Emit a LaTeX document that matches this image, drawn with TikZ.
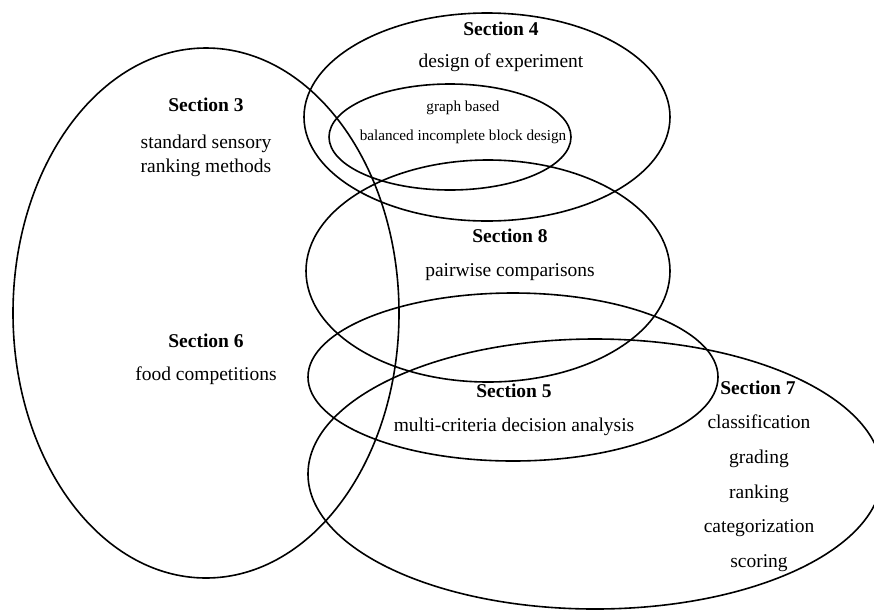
\documentclass[tikz,border=0pt]{standalone}
\usepackage{fontspec}
\setmainfont{Liberation Serif}
\usepackage{tikz}
\usetikzlibrary{positioning}

\begin{document}
\begin{tikzpicture}[
  x=1pt, y=-1pt,
  setline/.style={draw=black, line width=1.6pt},
  head/.style={font=\fontsize{19.5}{23}\selectfont\bfseries, inner sep=0pt,
               text height=0.7em, text depth=0em},
  body/.style={font=\fontsize{19.5}{23}\selectfont, inner sep=0pt,
               text height=0.7em, text depth=0.2em},
  small/.style={font=\fontsize{15.2}{18}\selectfont, inner sep=0pt,
                text height=0.7em, text depth=0.2em},
]
\clip (0,0) rectangle (874,611);

%%---- Sets -----------------------------------------------------------
% Sections 3 and 6 share the big left set
\draw[setline] (206,313) ellipse [x radius=193, y radius=265];
% Section 4 with the inner graph based design set
\draw[setline] (487,117) ellipse [x radius=183, y radius=104];
\draw[setline] (450,137) ellipse [x radius=121, y radius=53];
% Section 8
\draw[setline] (488,271) ellipse [x radius=182, y radius=111];
% Section 5
\draw[setline] (513,377) ellipse [x radius=205, y radius=84];
% Section 7 runs past the right edge
\draw[setline] (595,474) ellipse [x radius=287, y radius=135];

%%---- Labels ---------------------------------------------------------
\node[head] (sec3) at (206,108) {Section 3};
\node[body] (sec3a) at (206,146) {standard sensory};
\node[body] (sec3b) at (206,170) {ranking methods};

\node[head] (sec4) at (501,32) {Section 4};
\node[body] (sec4a) at (501,65) {design of experiment};
\node[small] (gbA) at (463,109) {graph based};
\node[small] (gbB) at (463,138) {balanced incomplete block design};

\node[head] (sec8) at (510,239) {Section 8};
\node[body] (sec8a) at (510,274) {pairwise comparisons};

\node[head] (sec6) at (206,344) {Section 6};
\node[body] (sec6a) at (206,378) {food competitions};

\node[head] (sec5) at (514,394) {Section 5};
\node[body] (sec5a) at (514,429) {multi-criteria decision analysis};

\node[head] (sec7) at (758,391) {Section 7};
\foreach \txt [count=\i] in {classification, grading, ranking, categorization, scoring}
  \node[body] (sec7l\i) at (759,{426+34.75*(\i-1)}) {\txt};

\end{tikzpicture}
\end{document}
